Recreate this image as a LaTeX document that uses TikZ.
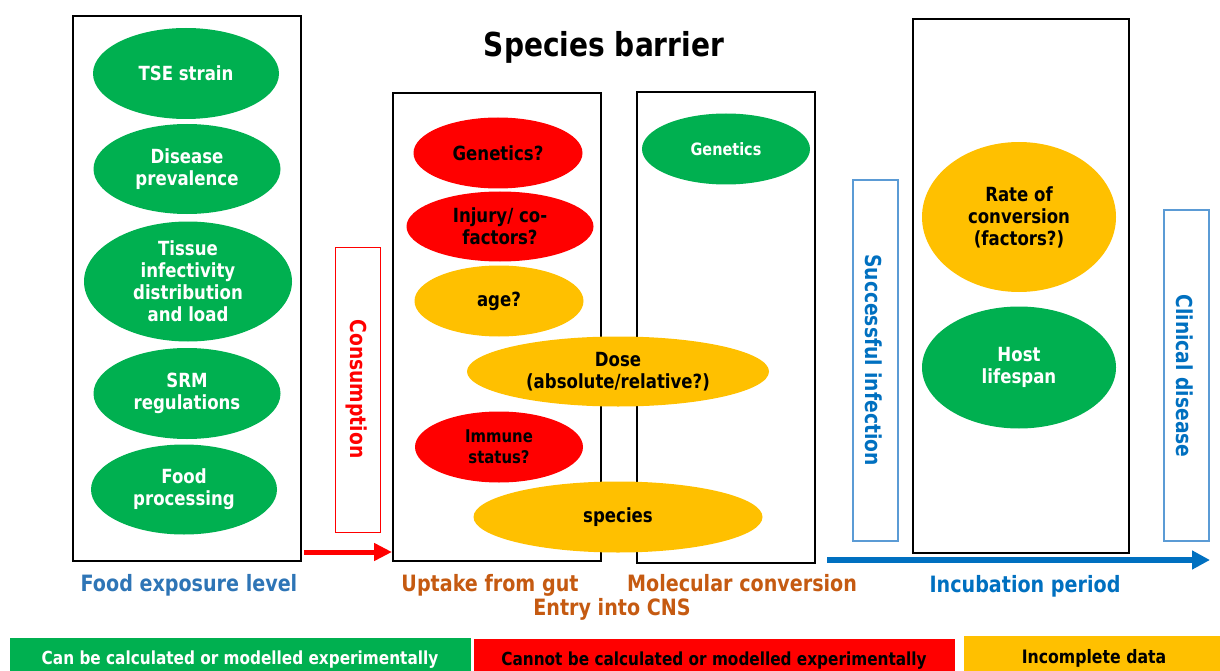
\documentclass[tikz,border=0pt]{standalone}
\usepackage{fontspec}
\setmainfont{DejaVu Sans}[FakeStretch=0.85]
\usetikzlibrary{shapes.geometric,arrows.meta}
\definecolor{cgreen}{HTML}{00B050}
\definecolor{cred}{HTML}{FF0000}
\definecolor{cyellow}{HTML}{FFC000}
\definecolor{cblue}{HTML}{0070C0}
\definecolor{cfoodblue}{HTML}{2E75B6}
\definecolor{corange}{HTML}{C55A11}
\definecolor{clightblue}{HTML}{5B9BD5}
\newcommand{\fs}[2]{\fontsize{#1}{#2}\selectfont\bfseries}
\tikzset{
  bigbox/.style={draw=black,line width=2.6pt,rectangle,inner sep=0pt},
  ell/.style={ellipse,inner sep=0pt,align=center,font=\fs{19.5}{22}},
  gell/.style={ell,fill=cgreen,text=white},
  rell/.style={ell,fill=cred,text=black},
  yell/.style={ell,fill=cyellow,text=black},
  vbox/.style={rectangle,inner sep=0pt,fill=white},
  vtext/.style={rotate=-90,font=\fs{22}{26}},
  lbl/.style={font=\fs{22.5}{25}},
  legend/.style={rectangle,inner sep=0pt,anchor=north west},
  etext/.style={align=center,inner sep=0pt},
}
\begin{document}
\begin{tikzpicture}[x=1pt,y=-1pt]
\useasboundingbox (0,0) rectangle (1220,671);
% boxes
\node[bigbox,minimum width=228pt,minimum height=545pt] (food) at (187,288.5) {};
\node[bigbox,minimum width=208pt,minimum height=468pt] (uptake) at (497,327) {};
\node[bigbox,minimum width=178pt,minimum height=471pt] (molec) at (726,327.5) {};
\node[bigbox,minimum width=216pt,minimum height=534pt] (incub) at (1021,286) {};
% title
\node[font=\fs{33}{38}] (title) at (604,47) {Species barrier};
% left ellipses
\node[gell,minimum width=186pt,minimum height=91pt] (tse) at (186,73.5) {TSE strain};
\node[gell,minimum width=187pt,minimum height=90pt] (prev) at (187,169) {Disease\\prevalence};
\node[gell,minimum width=208pt,minimum height=120pt] (tissue) at (188,281.5) {Tissue\\infectivity\\distribution\\and load};
\node[gell,minimum width=187pt,minimum height=91pt] (srm) at (187,393.5) {SRM\\regulations};
\node[gell,minimum width=186pt,minimum height=90pt] (proc) at (184,489.5) {Food\\processing};
% consumption
\node[vbox,draw=cred,line width=1pt,minimum width=45pt,minimum height=285pt] (cbox) at (357.5,389.5) {};
\node[vtext,text=cred] (cons) at (357,389) {Consumption};
% middle ellipses
\node[rell,minimum width=169pt,minimum height=71pt] (gen1) at (498,153) {Genetics?};
\node[rell,minimum width=187pt,minimum height=70pt] (inj) at (500,226.5) {Injury/ co-\\factors?};
\node[yell,minimum width=169pt,minimum height=71pt] (age) at (499,301) {age?};
\node[yell,minimum width=302pt,minimum height=70pt] (dose) at (618,371.5) {Dose\\(absolute/relative?)};
\node[rell,minimum width=168pt,minimum height=71pt,font=\fs{17.5}{21}] (imm) at (499,447) {Immune\\status?};
\node[yell,minimum width=289pt,minimum height=71pt] (spec) at (618,517) {species};
\node[gell,minimum width=168pt,minimum height=71pt,font=\fs{17}{20}] (gen2) at (726,149) {Genetics};
% right side
\node[vbox,draw=clightblue,line width=1.1pt,minimum width=45pt,minimum height=361pt] (sbox) at (875.5,360.5) {};
\node[vtext,text=cblue] (succ) at (874,360) {Successful infection};
\node[yell,minimum width=194pt,minimum height=150pt] (rate) at (1019,217) {Rate of\\conversion\\(factors?)};
\node[gell,minimum width=194pt,minimum height=122pt] (host) at (1019,367.5) {Host\\lifespan};
\node[vbox,draw=clightblue,line width=1.1pt,minimum width=45pt,minimum height=331pt] (clbox) at (1186.5,375.5) {};
\node[vtext,text=cblue] (clin) at (1185,376) {Clinical disease};
% arrows
\coordinate (ra) at (304,552);
\coordinate (rb) at (392,552);
\draw[cred,line width=5pt,-{Triangle[length=18pt,width=17pt]}] (ra) -- (rb);
\coordinate (ba) at (827,560);
\coordinate (bb) at (1210,560);
\draw[cblue,line width=5.5pt,-{Triangle[length=18pt,width=18pt]}] (ba) -- (bb);
% stage labels
\node[lbl,text=cfoodblue] (lfood) at (189,585) {Food exposure level};
\node[lbl,text=corange] (lup) at (490,585) {Uptake from gut};
\node[lbl,text=corange] (lmol) at (742,583) {Molecular conversion};
\node[lbl,text=corange] (lcns) at (612,609) {Entry into CNS};
\node[lbl,text=cblue] (linc) at (1025,586) {Incubation period};
% legend
\node[legend,fill=cgreen,minimum width=461pt,minimum height=34pt] (lg) at (10,638) {};
\node[font=\fs{18}{20},text=white] (lgt) at (240,659.5) {Can be calculated or modelled experimentally};
\node[legend,fill=cred,minimum width=481pt,minimum height=33pt] (lr) at (474,639) {};
\node[font=\fs{18}{20},text=black] (lrt) at (714,660.5) {Cannot be calculated or modelled experimentally};
\node[legend,fill=cyellow,minimum width=256pt,minimum height=35pt] (ly) at (964,636) {};
\node[font=\fs{18.5}{21},text=black] (lyt) at (1094,658.5) {Incomplete data};
\end{tikzpicture}
\end{document}
